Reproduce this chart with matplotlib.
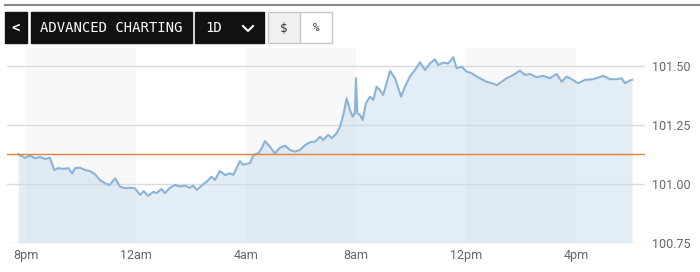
import matplotlib
matplotlib.use("Agg")
import matplotlib.pyplot as plt
from matplotlib.patches import Rectangle
from matplotlib.lines import Line2D

# hours after 8pm
hours = [-0.28, -0.04, 0.15, 0.33, 0.51, 0.69, 0.87, 1.03, 1.17, 1.36, 1.54, 1.68,
         1.78, 1.96, 2.15, 2.33, 2.51, 2.69, 2.87, 3.05, 3.24, 3.42, 3.60, 3.78,
         3.96, 4.15, 4.27, 4.45, 4.63, 4.75, 4.93, 5.05, 5.24, 5.42, 5.60, 5.78,
         5.96, 6.08, 6.21, 6.39, 6.57, 6.75, 6.87, 7.05, 7.24, 7.42, 7.54, 7.66,
         7.78, 7.90, 8.15, 8.27, 8.45, 8.57, 8.69, 8.87, 9.05, 9.24, 9.42, 9.60,
         9.78, 9.96, 10.15, 10.33, 10.51, 10.69, 10.81, 10.99, 11.12, 11.30, 11.42,
         11.54, 11.66, 11.78, 11.88, 11.96, 12.00, 12.05, 12.15, 12.24, 12.36, 12.51,
         12.63, 12.75, 12.87, 12.99, 13.24, 13.42, 13.64, 13.78, 13.96, 14.15, 14.33,
         14.51, 14.69, 14.87, 14.99, 15.17, 15.36, 15.54, 15.66, 15.84, 16.03, 16.21,
         16.39, 16.57, 16.75, 16.93, 17.12, 17.30, 17.48, 17.72, 17.96, 18.15, 18.33,
         18.57, 18.81, 19.05, 19.30, 19.48, 19.66, 19.84, 20.08, 20.33, 20.63, 20.99,
         21.24, 21.48, 21.66, 21.78, 21.96, 22.04]
prices = [101.126, 101.111, 101.120, 101.109, 101.114, 101.106, 101.111, 101.059,
          101.067, 101.064, 101.067, 101.045, 101.067, 101.069, 101.059, 101.055,
          101.041, 101.017, 101.003, 100.996, 101.024, 100.989, 100.982, 100.984,
          100.982, 100.953, 100.970, 100.950, 100.967, 100.961, 100.979, 100.961,
          100.984, 100.996, 100.989, 100.993, 100.984, 100.993, 100.975, 100.993,
          101.010, 101.031, 101.017, 101.055, 101.038, 101.045, 101.038, 101.067,
          101.097, 101.081, 101.089, 101.123, 101.130, 101.151, 101.182, 101.158,
          101.130, 101.154, 101.162, 101.144, 101.137, 101.144, 101.165, 101.177,
          101.179, 101.200, 101.186, 101.208, 101.194, 101.215, 101.243, 101.292,
          101.363, 101.314, 101.285, 101.300, 101.448, 101.300, 101.292, 101.271,
          101.342, 101.370, 101.356, 101.412, 101.398, 101.377, 101.479, 101.448,
          101.370, 101.412, 101.455, 101.483, 101.516, 101.483, 101.511, 101.528,
          101.504, 101.514, 101.511, 101.537, 101.490, 101.497, 101.476, 101.469,
          101.455, 101.444, 101.433, 101.427, 101.419, 101.433, 101.448, 101.462,
          101.480, 101.462, 101.466, 101.452, 101.458, 101.448, 101.466, 101.433,
          101.455, 101.444, 101.427, 101.441, 101.444, 101.458, 101.444, 101.444,
          101.448, 101.427, 101.438, 101.441]
prev_close = 101.125
tick_hours = [0, 4, 8, 12, 16, 20]
tick_labels = ["8pm", "12am", "4am", "8am", "12pm", "4pm"]
y_ticks = [100.75, 101.00, 101.25, 101.50]
shaded = [(0, 4), (8, 12), (16, 20)]

W, H = 700, 272
fig = plt.figure(figsize=(W / 100, H / 100), dpi=100)
fig.patch.set_facecolor("white")


def fx(px):
    return px / W


def fy(py):
    return 1 - py / H


ax = fig.add_axes([fx(7), fy(243), fx(645) - fx(7), fy(48) - fy(243)])
ax.set_xlim(-0.69, 22.51)
ax.set_ylim(100.75, 101.576)
for a, b in shaded:
    ax.axvspan(a, b, color="#f8f8f8", lw=0, zorder=0)
for v in y_ticks:
    ax.axhline(v, color="#dadada", lw=1, zorder=1)
ax.fill_between(hours, prices, 100.75, color="#c8dcec", alpha=0.5, lw=0, zorder=2)
ax.plot(hours, prices, color="#8ab3d8", lw=1.5, zorder=3)
ax.axhline(prev_close, color="#e0803f", lw=1, zorder=4)

for s in ax.spines.values():
    s.set_visible(False)
ax.yaxis.tick_right()
ax.set_yticks(y_ticks)
ax.set_yticklabels([f"{v:.2f}" for v in y_ticks])
ax.set_xticks(tick_hours)
ax.set_xticklabels(tick_labels)
ax.tick_params(length=0, colors="#666666", labelsize=9)
ax.tick_params(axis="y", pad=5)
ax.tick_params(axis="x", pad=4)
for lab in ax.get_xticklabels() + ax.get_yticklabels():
    lab.set_family(["Roboto", "DejaVu Sans"])

# toolbar
fig.add_artist(Line2D([fx(5), 1], [fy(5), fy(5)], color="#888888", lw=1.5))


def box(x0, x1, face, edge=None):
    fig.add_artist(Rectangle((fx(x0), fy(43)), fx(x1) - fx(x0), fy(12) - fy(43),
                             facecolor=face, edgecolor=edge if edge else face, lw=1))


box(5, 27, "#111111")
box(31, 192, "#111111")
box(195, 264, "#111111")
box(268, 300, "#f0f0f0", "#c8c8c8")
box(300, 332, "#ffffff", "#c8c8c8")
mono = ["DejaVu Sans Mono"]
fig.text(fx(16), fy(28), "<", color="white", ha="center", va="center",
         family=mono, fontsize=10, fontweight="bold")
fig.text(fx(111), fy(28), "ADVANCED CHARTING", color="white", ha="center",
         va="center", family=mono, fontsize=10)
fig.text(fx(214), fy(28), "1D", color="white", ha="center", va="center",
         family=mono, fontsize=10)
fig.add_artist(Line2D([fx(243), fx(248), fx(253)], [fy(26), fy(31), fy(26)],
                      color="white", lw=1.5))
fig.text(fx(284), fy(28), "$", color="#333333", ha="center", va="center",
         family=mono, fontsize=9)
fig.text(fx(316), fy(28), "%", color="#333333", ha="center", va="center",
         family=mono, fontsize=8)

fig.savefig("out.png", dpi=100)
